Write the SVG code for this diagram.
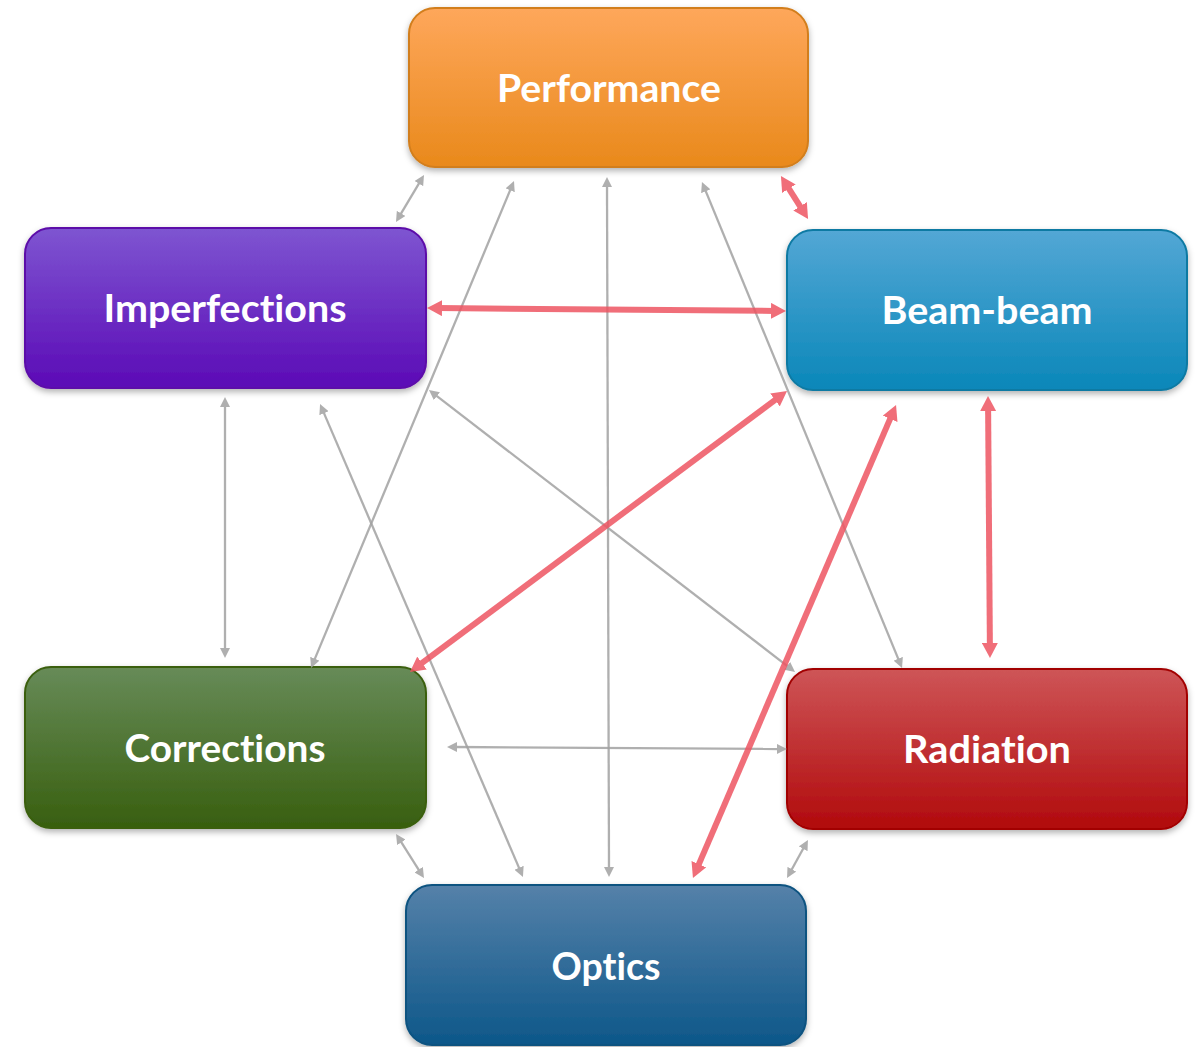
<svg xmlns="http://www.w3.org/2000/svg" width="1201" height="1047" viewBox="0 0 1201 1047">
<defs>
<style>
.node rect{stroke-width:2}
.lbl{font-family:Lato,"Open Sans","Liberation Sans",sans-serif;font-weight:bold;font-size:38px;fill:#fff;text-anchor:middle;font-variant-ligatures:none;font-feature-settings:"liga" 0,"clig" 0}
.g line{stroke:#a2a2a2;stroke-width:2.3;marker-start:url(#ga);marker-end:url(#ga)}
.g{opacity:0.85}
.r line{stroke:#ee5562;stroke-width:6;marker-start:url(#ra);marker-end:url(#ra)}
.r{opacity:0.85}
</style>
<marker id="ga" markerUnits="userSpaceOnUse" viewBox="0 0 10 10" markerWidth="10" markerHeight="10" refX="2" refY="5" orient="auto-start-reverse"><path d="M0,0 L10,5 L0,10 z" fill="#a2a2a2"/></marker>
<marker id="ra" markerUnits="userSpaceOnUse" viewBox="0 0 15 16" markerWidth="15" markerHeight="16" refX="4" refY="8" orient="auto-start-reverse"><path d="M0,0 L15,8 L0,16 z" fill="#ee5562"/></marker>
<filter id="sh" x="-10%" y="-10%" width="120%" height="130%"><feDropShadow dx="0" dy="3" stdDeviation="3" flood-color="#000" flood-opacity="0.3"/></filter>
<linearGradient id="gP" x1="0" y1="0" x2="0" y2="1"><stop offset="0" stop-color="#fea75b"/><stop offset="1" stop-color="#e9891b"/></linearGradient>
<linearGradient id="gI" x1="0" y1="0" x2="0" y2="1"><stop offset="0" stop-color="#7e55d1"/><stop offset="1" stop-color="#5b0ab6"/></linearGradient>
<linearGradient id="gB" x1="0" y1="0" x2="0" y2="1"><stop offset="0" stop-color="#53a7d5"/><stop offset="1" stop-color="#0a87b9"/></linearGradient>
<linearGradient id="gC" x1="0" y1="0" x2="0" y2="1"><stop offset="0" stop-color="#678b58"/><stop offset="1" stop-color="#385f0f"/></linearGradient>
<linearGradient id="gR" x1="0" y1="0" x2="0" y2="1"><stop offset="0" stop-color="#ce5557"/><stop offset="1" stop-color="#b10a0c"/></linearGradient>
<linearGradient id="gO" x1="0" y1="0" x2="0" y2="1"><stop offset="0" stop-color="#5581a9"/><stop offset="1" stop-color="#0d5789"/></linearGradient>
</defs>
<rect width="1201" height="1047" fill="#fff"/>
<g id="nodes">
<g id="performance" class="node"><rect x="409" y="8" width="399" height="159" rx="26" fill="url(#gP)" stroke="#d27e1c" filter="url(#sh)"/><text class="lbl" x="609" y="102" textLength="224" lengthAdjust="spacingAndGlyphs">Performance</text></g>
<g id="imperfections" class="node"><rect x="25" y="228" width="401" height="160" rx="26" fill="url(#gI)" stroke="#5c0aa9" filter="url(#sh)"/><text class="lbl" x="225" y="322" textLength="243" lengthAdjust="spacingAndGlyphs">Imperfections</text></g>
<g id="beambeam" class="node"><rect x="787" y="230" width="400" height="160" rx="26" fill="url(#gB)" stroke="#0e7aa3" filter="url(#sh)"/><text class="lbl" x="987" y="324" textLength="211" lengthAdjust="spacingAndGlyphs">Beam-beam</text></g>
<g id="corrections" class="node"><rect x="25" y="667" width="401" height="161" rx="26" fill="url(#gC)" stroke="#3a5f0f" filter="url(#sh)"/><text class="lbl" x="225" y="762" textLength="201" lengthAdjust="spacingAndGlyphs">Corrections</text></g>
<g id="radiation" class="node"><rect x="787" y="669" width="400" height="160" rx="26" fill="url(#gR)" stroke="#a20000" filter="url(#sh)"/><text class="lbl" x="987" y="763" textLength="168" lengthAdjust="spacingAndGlyphs">Radiation</text></g>
<g id="optics" class="node"><rect x="406" y="885" width="400" height="160" rx="26" fill="url(#gO)" stroke="#0b5280" filter="url(#sh)"/><text class="lbl" x="606" y="980" textLength="109" lengthAdjust="spacingAndGlyphs">Optics</text></g>
</g>
<g id="connectors">
<g class="g"><line x1="419.9" y1="181.9" x2="400.1" y2="215.1"/></g>
<g class="g"><line x1="510.9" y1="188.4" x2="314.1" y2="660.6"/></g>
<g class="g"><line x1="607" y1="185" x2="609" y2="869"/></g>
<g class="g"><line x1="705" y1="189.4" x2="899" y2="660.6"/></g>
<g class="g"><line x1="225" y1="405" x2="225" y2="650"/></g>
<g class="g"><line x1="323.2" y1="411.4" x2="519.8" y2="869.6"/></g>
<g class="g"><line x1="435.3" y1="394.9" x2="788.7" y2="667.1"/></g>
<g class="g"><line x1="455" y1="747" x2="779" y2="749"/></g>
<g class="g"><line x1="400.3" y1="840.7" x2="419.7" y2="871.3"/></g>
<g class="g"><line x1="804.1" y1="847" x2="790.9" y2="871"/></g>
<g class="r"><line x1="786.8" y1="185.3" x2="802.2" y2="209.7"/></g>
<g class="r"><line x1="438" y1="308.1" x2="775" y2="310.9"/></g>
<g class="r"><line x1="778.2" y1="397.6" x2="418.8" y2="665.4"/></g>
<g class="r"><line x1="891.7" y1="415.1" x2="697.3" y2="867.9"/></g>
<g class="r"><line x1="988.1" y1="407" x2="989.9" y2="647"/></g>
</g>
</svg>
